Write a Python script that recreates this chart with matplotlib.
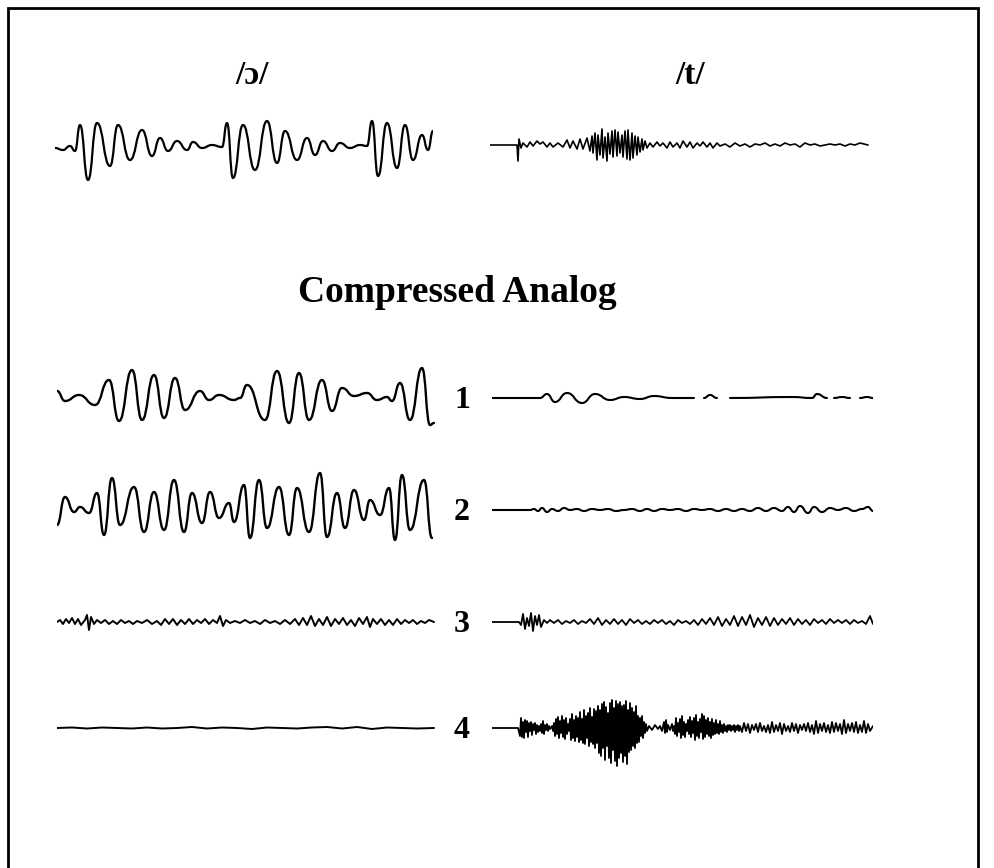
import numpy as np
import matplotlib
matplotlib.use('Agg')
import matplotlib.pyplot as plt
from matplotlib.patches import Rectangle, PathPatch
from matplotlib.path import Path

# waveform turning points: (sample, amplitude)
# sample step ~0.1 ms, amplitude in arbitrary units
top_aw = [(0, 0), (8, -2), (15, 2), (20, -3), (25, 23), (33, -32), (42, 25), (55, -18),
          (63, 23), (75, -12), (87, 18), (97, -8), (105, 10), (113, -3), (122, 7), (132, -2),
          (138, 6), (147, 0), (157, 3), (167, 1), (172, 25), (178, -30), (188, 23), (200, -22),
          (212, 27), (222, -15), (230, 17), (242, -12), (252, 10), (260, -7), (268, 7), (277, -3),
          (285, 5), (295, 0), (305, 3), (312, 2), (317, 27), (323, -28), (332, 25), (342, -20),
          (350, 23), (358, -12), (367, 13), (373, -2), (378, 17)]

top_t = [(0, 0), (27, 0), (28, -16), (29, 6), (31, -3), (33, 2), (37, -2), (40, 3), (43, -1),
         (47, 4), (50, 1), (53, 3), (57, -2), (60, 2), (63, -2), (68, 2), (73, -2), (77, 5),
         (80, -3), (83, 4), (87, -4), (90, 6), (93, -4), (97, 7), (100, -6),
         (102, 9), (103, -8), (105, 12), (107, -15), (108, 10), (110, -10), (112, 16), (113, -13),
         (115, 8), (117, -16), (118, 12), (120, -9), (122, 14), (123, -12), (125, 15), (127, -11),
         (128, 13), (130, -8), (132, 10), (133, -12), (135, 14), (137, -14), (138, 15), (140, -15),
         (142, 12), (143, -13), (145, 9), (147, -10), (148, 8), (150, -7), (152, 6), (153, -5),
         (155, 4), (157, -3),
         (160, 2), (163, -2), (167, 3), (170, -1), (173, 2), (177, -3), (180, 3), (183, -2),
         (187, 2), (190, -3), (193, 4), (197, -2), (200, 3), (203, -3), (207, 2), (210, -1),
         (213, 3), (217, -2), (220, 2), (223, -3), (227, 2), (230, -1), (235, 1), (240, -2),
         (245, 2), (250, -1), (255, 1), (260, -2), (265, 1), (270, 0), (275, 2), (280, -1),
         (285, 1), (290, -1), (295, 2), (300, 0), (305, 1), (310, -2), (315, 2), (320, 0),
         (325, 1), (330, -1), (340, 1), (345, 0), (350, 1), (355, -1), (360, 1), (365, 0),
         (370, 2), (378, 0)]

# compressed analog, channels 1-4, vowel /ɔ/
ch1_aw = [(0, 7), (8, -3), (22, 3), (38, -7), (52, 18), (62, -23), (75, 28), (85, -22),
          (97, 23), (107, -20), (118, 20), (128, -12), (143, 7), (152, -2), (162, 3), (177, -2),
          (183, 0), (190, 13), (208, -22), (220, 27), (232, -25), (242, 25), (252, -22), (265, 18),
          (275, -13), (285, 10), (297, 2), (310, 5), (320, -2), (330, 1), (335, -3), (343, 15),
          (353, -22), (365, 30), (373, -27), (377, -25)]

ch2_aw = [(0, -15), (8, 13), (17, -2), (23, 3), (32, -3), (40, 17), (47, -25), (55, 32),
          (63, -15), (77, 23), (87, -22), (97, 18), (107, -20), (117, 30), (127, -22), (135, 17),
          (145, -13), (153, 18), (162, -8), (172, 7), (177, -12), (187, 25), (193, -28), (202, 30),
          (210, -18), (222, 23), (232, -25), (240, 22), (252, -22), (263, 37), (270, -27), (280, 17),
          (288, -18), (297, 20), (307, -10), (313, 10), (323, -5), (332, 22), (338, -30), (345, 35),
          (353, -20), (367, 30), (375, -28)]

ch3_aw = [(0, 0), (3, 2), (6, -2), (9, 3), (12, -1), (15, 4), (18, -2), (21, 3), (24, -3),
          (28, 2), (30, 7), (32, -8), (34, 5), (37, -2), (40, 2), (44, -1), (48, 2), (52, -2),
          (56, 1), (60, -2), (64, 2), (68, -1), (72, 1), (76, -2), (80, 1), (85, -1), (90, 2),
          (95, -2), (100, 1), (104, -3), (108, 3), (112, -2), (116, 3), (120, -3), (124, 2),
          (128, -2), (132, 3), (136, -2), (140, 2), (144, -1), (148, 3), (152, -2), (156, 2),
          (160, -1), (163, 6), (166, -4), (169, 2), (173, -1), (178, 1), (183, -1), (188, 2),
          (193, -1), (198, 1), (203, -2), (208, 2), (213, -1), (218, 1), (223, -2), (228, 2),
          (233, -2), (238, 3), (242, -3), (246, 4), (250, -3), (254, 6), (258, -4), (262, 3),
          (266, -3), (270, 5), (274, -4), (278, 3), (282, -2), (286, 4), (290, -3), (294, 2),
          (298, -4), (302, 4), (306, -2), (310, 5), (313, -5), (316, 3), (320, -2), (324, 3),
          (328, -3), (332, 2), (336, -3), (340, 3), (344, -2), (348, 2), (352, -1), (356, 2),
          (360, -2), (364, 1), (368, -1), (372, 2), (377, 0)]

ch4_aw = [(0, 0), (15, 0.5), (30, -0.5), (45, 0.5), (60, 0), (75, -0.5), (90, 0.5), (105, -0.5),
          (120, 0), (135, 1), (150, -0.5), (165, 0.5), (180, 0), (195, -1), (210, 0.5), (225, 0),
          (240, -0.5), (255, 0.5), (270, 1), (285, -0.5), (300, 1), (315, -1), (330, 0.5),
          (345, 0), (360, -0.5), (377, 0)]

# compressed analog, channels 1-4, consonant /t/ (None = gap in trace)
ch1_t = [(0, 0), (48, 0), (55, 4), (63, -4), (75, 5), (90, -5), (103, 4), (118, -2), (132, 1),
         (148, -1), (162, 2), (180, 0), (202, 0), (203, None), (212, 0), (218, 3), (225, 0),
         (230, None), (238, 0), (300, 1), (320, 0), (325, 4), (335, 0), (337, None), (342, 0),
         (350, 1), (358, 0), (360, None), (368, 0), (375, 1), (381, 0)]

ch2_t = [(0, 0), (38, 0), (42, 1), (46, -1), (50, 2), (55, -2), (60, 1), (66, -1), (72, 2),
         (78, 0), (85, 1), (92, -1), (100, 1), (108, 0), (116, 1), (124, -1), (132, 0), (140, 1),
         (148, -1), (155, 1), (162, -1), (170, 1), (178, 0), (186, 1), (194, -1), (202, 1),
         (210, 0), (218, 1), (226, -1), (234, 1), (242, -1), (250, 1), (258, -1), (266, 2),
         (274, -1), (282, 2), (290, -1), (296, 3), (302, -2), (308, 4), (316, -3), (322, 3),
         (330, -2), (338, 2), (346, 0), (354, 2), (362, -1), (370, 1), (376, 3), (381, -1)]

ch3_t = [(0, 0), (27, 0), (29, -3), (31, 8), (33, -7), (35, 4), (37, -4), (39, 9), (41, -9),
         (43, 6), (45, -3), (47, 7), (49, -5), (52, 2), (55, -1), (58, 2), (62, -1), (66, 2),
         (70, -2), (74, 1), (78, -1), (82, 2), (86, -2), (90, 1), (94, -1), (98, 3), (102, -2),
         (106, 4), (110, -3), (114, 2), (118, -2), (122, 3), (126, -2), (130, 2), (134, -3),
         (138, 3), (142, -1), (146, 2), (150, -2), (154, 1), (158, -2), (162, 2), (166, -1),
         (170, 2), (174, -2), (178, 1), (182, -3), (186, 2), (190, -1), (194, 1), (198, -2),
         (202, 2), (206, -3), (210, 3), (214, -2), (218, 4), (222, -3), (226, 5), (230, -4),
         (234, 3), (238, -3), (242, 6), (246, -4), (250, 5), (254, -3), (258, 7), (262, -5),
         (266, 4), (270, -3), (274, 5), (278, -4), (282, 4), (286, -3), (290, 3), (294, -2),
         (298, 4), (302, -3), (306, 3), (310, -2), (314, 2), (318, -3), (322, 3), (326, -1),
         (330, 2), (334, -2), (338, 3), (342, -1), (346, 2), (350, -1), (354, 2), (358, -2),
         (362, 2), (366, -1), (370, 1), (374, -2), (378, 6), (381, -2)]

ch4_t = [(0, 0), (26, 0), (28, -8), (29, 10), (30, -9), (31, 6), (32, -10), (33, 8), (34, -4),
         (35, 7), (36, -9), (37, 5), (38, -3), (39, 6), (40, -7), (41, 4), (42, -2), (43, 5),
         (44, -6), (45, 3), (46, -4), (47, 2), (48, -3), (49, 4), (50, -5), (51, 7), (52, -6),
         (53, 3), (54, -2), (55, 4), (56, -3), (57, 2), (58, -1),
         (60, 2), (61, -3), (62, 5), (63, -8), (64, 9), (65, -6), (66, 11), (67, -10), (68, 7),
         (69, -5), (70, 12), (71, -9), (72, 8), (73, -11), (74, 10), (75, -6), (76, 4), (77, -3),
         (78, 9), (79, -12), (80, 14), (81, -10), (82, 8), (83, -13), (84, 12), (85, -9),
         (86, 10), (87, -14), (88, 16), (89, -12), (90, 9), (91, -15), (92, 18), (93, -16),
         (94, 12), (95, -10), (96, 15), (97, -18), (98, 20), (99, -14), (100, 11), (101, -16),
         (102, 19), (103, -20), (104, 17), (105, -15),
         (106, 22), (107, -25), (108, 18), (109, -28), (110, 24), (111, -20), (112, 26),
         (113, -32), (114, 21), (115, -18), (116, 15), (117, -30), (118, 25), (119, -35),
         (120, 28), (121, -22), (122, 20), (123, -33), (124, 27), (125, -38), (126, 24),
         (127, -30), (128, 26), (129, -25), (130, 22), (131, -34), (132, 23), (133, -28),
         (134, 27), (135, -36), (136, 18), (137, -24), (138, 25), (139, -22), (140, 20),
         (141, -18), (142, 16), (143, -20), (144, 22), (145, -15), (146, 12), (147, -14),
         (148, 10), (149, -8), (150, 12), (151, -10), (152, 6), (153, -5), (154, 4), (155, -3),
         (157, 2), (160, -2), (163, 3), (166, -1), (168, 2), (170, -3), (172, 6), (173, -5),
         (174, 8), (175, -4), (176, 3), (178, -2), (180, 4), (181, -3), (182, 2),
         (183, -6), (184, 10), (185, -8), (186, 5), (187, -4), (188, 9), (189, -10), (190, 12),
         (191, -7), (192, 6), (193, -9), (194, 4), (195, -3), (196, 8), (197, -6), (198, 11),
         (199, -9), (200, 7), (201, -5), (202, 10), (203, -12), (204, 13), (205, -8), (206, 6),
         (207, -10), (208, 9), (209, -4), (210, 14), (211, -11), (212, 12), (213, -9), (214, 8),
         (215, -6), (216, 10), (217, -8), (218, 6), (219, -10), (220, 9), (221, -7), (222, 5),
         (223, -6), (224, 8), (225, -5), (226, 4), (227, -6), (228, 7), (229, -4), (230, 3),
         (231, -5), (232, 4), (233, -3), (234, 2), (235, -4), (236, 3), (237, -2), (238, 3),
         (239, -3), (240, 2), (241, -2), (242, 3), (243, -4), (244, 2), (245, -2), (246, 3),
         (247, -3), (248, 2),
         (250, -4), (252, 5), (254, -3), (256, 4), (258, -5), (260, 3), (262, -2), (264, 4),
         (266, -4), (268, 5), (270, -3), (272, 2), (274, -4), (276, 3), (278, -5), (280, 6),
         (282, -4), (284, 3), (286, -3), (288, 5), (290, -6), (292, 4), (294, -3), (296, 2),
         (298, -4), (300, 5), (302, -3), (304, 4), (306, -5), (308, 3), (310, -2), (312, 4),
         (314, -3), (316, 5), (318, -4), (320, 3), (322, -6), (324, 7), (326, -5), (328, 4),
         (330, -3), (332, 5), (334, -4), (336, 3), (338, -5), (340, 6), (342, -4), (344, 5),
         (346, -3), (348, 4), (350, -6), (352, 8), (354, -5), (356, 4), (358, -3), (360, 5),
         (362, -4), (364, 6), (366, -5), (368, 3), (370, -4), (372, 7), (374, -5), (376, 4),
         (378, -3), (381, 2)]

col_titles = ['/ɔ/', '/t/']
heading = 'Compressed Analog'
channel_labels = ['1', '2', '3', '4']

W, H = 994, 868
fig = plt.figure(figsize=(W / 100, H / 100), dpi=100)
serif = ['Liberation Serif', 'DejaVu Serif']


def add_wave(x0, yc, width, pts, lw=1.3, smooth=False):
    # one axes per trace, 1 amplitude unit ~ 1 px
    ax = fig.add_axes([x0 / W, 1 - (yc + 50) / H, width / W, 100 / H])
    ax.set_xlim(0, width)
    ax.set_ylim(-50, 50)
    ax.axis('off')
    if not smooth:
        t = np.array([p[0] for p in pts], dtype=float)
        a = np.array([np.nan if p[1] is None else p[1] for p in pts], dtype=float)
        ax.plot(t, a, color='black', lw=lw, solid_joinstyle='round', solid_capstyle='round')
        return ax
    # smooth trace: turning points joined by bezier curves with flat tangents
    runs, cur = [], []
    for p in pts:
        if p[1] is None:
            if cur:
                runs.append(cur)
            cur = []
        else:
            cur.append(p)
    if cur:
        runs.append(cur)
    for run in runs:
        verts = [run[0]]
        codes = [Path.MOVETO]
        for (t0, a0), (t1, a1) in zip(run[:-1], run[1:]):
            h = (t1 - t0) / 2
            verts += [(t0 + h, a0), (t1 - h, a1), (t1, a1)]
            codes += [Path.CURVE4] * 3
        ax.add_patch(PathPatch(Path(verts, codes), fill=False, lw=lw, edgecolor='black',
                               capstyle='round', joinstyle='round'))
    return ax


# frame (bottom edge runs off the page)
fig.add_artist(Rectangle((8 / W, -0.1), 970 / W, 1.1 - 8 / H, fill=False,
                         lw=2, edgecolor='black', transform=fig.transFigure))

fig.text(252 / W, 1 - 76 / H, col_titles[0], ha='center', va='center',
         fontsize=24, fontweight='bold', family=serif)
fig.text(690 / W, 1 - 76 / H, col_titles[1], ha='center', va='center',
         fontsize=24, fontweight='bold', family=serif)
add_wave(55, 148, 378, top_aw, lw=1.6, smooth=True)
add_wave(490, 145, 381, top_t, lw=1.2)

fig.text(457 / W, 1 - 292 / H, heading, ha='center', va='center',
         fontsize=27, fontweight='bold', family=serif)

left_rows = [ch1_aw, ch2_aw, ch3_aw, ch4_aw]
right_rows = [ch1_t, ch2_t, ch3_t, ch4_t]
row_y = [398, 510, 622, 728]
for i in range(4):
    if i < 2:
        add_wave(57, row_y[i], 378, left_rows[i], lw=1.7, smooth=True)
        add_wave(492, row_y[i], 381, right_rows[i], lw=1.5, smooth=True)
    else:
        add_wave(57, row_y[i], 378, left_rows[i], lw=1.4)
        add_wave(492, row_y[i], 381, right_rows[i], lw=1.3)
    fig.text(462 / W, 1 - (row_y[i] + 2) / H, channel_labels[i], ha='center', va='center',
             fontsize=23, fontweight='bold', family=serif)

fig.savefig('out.png', dpi=100)
plt.close(fig)
